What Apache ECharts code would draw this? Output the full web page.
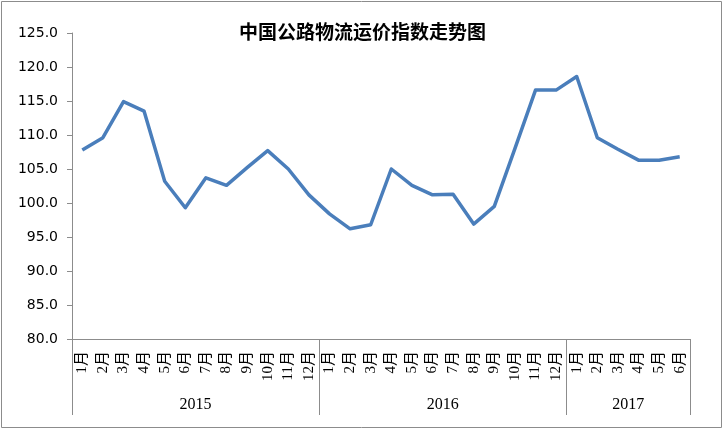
<!DOCTYPE html>
<html>
<head>
<meta charset="utf-8">
<script src="https://cdn.jsdelivr.net/npm/echarts@6/dist/echarts.min.js"></script>
<style>
html,body{margin:0;padding:0;background:#fff;}
#chart{width:725px;height:431px;}
</style>
</head>
<body>
<div id="chart"></div>
<script>
// 中国公路物流运价指数
var months = ['1月','2月','3月','4月','5月','6月','7月','8月','9月','10月','11月','12月',
              '1月','2月','3月','4月','5月','6月','7月','8月','9月','10月','11月','12月',
              '1月','2月','3月','4月','5月','6月'];
var priceIndex = [107.8,109.6,114.9,113.5,103.2,99.3,103.7,102.6,105.2,107.7,105.0,101.2,
                  98.4,96.2,96.8,105.0,102.6,101.2,101.3,96.9,99.5,108.0,116.6,116.6,
                  118.6,109.6,107.9,106.3,106.3,106.8];
var years = ['2015','2016','2017'];
var yearBounds = [0, 12, 24, 30];   // 年份分隔 (月份序号)
var yearCenters = [6, 18, 27];

var chart = echarts.init(document.getElementById('chart'));
var option = {
    backgroundColor:'#fff',
    animation:false,
    title:{
        text:'中国公路物流运价指数走势图',
        left:'center', top:17,
        textStyle:{fontFamily:'Noto Sans CJK SC', fontSize:19, fontWeight:'bold', color:'#000'}
    },
    graphic:[{
        type:'rect', silent:true,
        shape:{x:1.5, y:1.5, width:720, height:426},
        style:{fill:'none', stroke:'#8c8c8c', lineWidth:1}
    }],
    grid:{left:72, right:35, top:33, bottom:92},
    xAxis:[{
        type:'category',
        data:months,
        boundaryGap:true,
        axisLine:{lineStyle:{color:'#8c8c8c'}},
        axisTick:{interval:0, length:44, lineStyle:{color:'#8c8c8c'}},
        axisLabel:{
            interval:0, rotate:90, margin:12,
            fontFamily:'Liberation Serif, Noto Sans CJK SC', fontSize:15, color:'#000'
        }
    },{
        type:'value',
        position:'bottom',
        min:0, max:30, interval:6,
        axisLine:{show:false},
        splitLine:{show:false},
        axisTick:{show:true, length:76, customValues:yearBounds, lineStyle:{color:'#8c8c8c'}},
        axisLabel:{
            customValues:yearCenters, margin:58,
            fontFamily:'Liberation Serif', fontSize:16, color:'#000',
            formatter:function(v){ return years[yearCenters.indexOf(v)]; }
        }
    }],
    yAxis:{
        type:'value',
        min:80, max:125, interval:5,
        axisLine:{show:true, lineStyle:{color:'#8c8c8c'}},
        axisTick:{show:true, length:5, lineStyle:{color:'#8c8c8c'}},
        splitLine:{show:false},
        axisLabel:{
            margin:14, fontFamily:'DejaVu Sans', fontSize:14, color:'#000',
            formatter:function(v){ return v.toFixed(1); }
        }
    },
    series:[{
        type:'line',
        xAxisIndex:0,
        data:priceIndex,
        showSymbol:false,
        lineStyle:{color:'#4a7ebb', width:3.5, join:'round'}
    }]
};
chart.setOption(option);
</script>
</body>
</html>
